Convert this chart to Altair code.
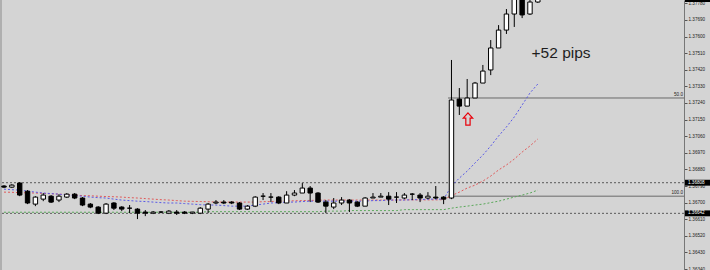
import altair as alt
import pandas as pd

# ---- data (price units) ----
opens = [1.36790, 1.36784, 1.36806, 1.36762, 1.36692, 1.36719, 1.36735, 1.36714, 1.36730, 1.36746,
         1.36725, 1.36692, 1.36676, 1.36643, 1.36698, 1.36676, 1.36670, 1.36665, 1.36649, 1.36643,
         1.36649, 1.36643, 1.36649, 1.36649, 1.36643, 1.36643, 1.36665, 1.36698, 1.36703, 1.36703,
         1.36698, 1.36665, 1.36681, 1.36735, 1.36730, 1.36730, 1.36698, 1.36741, 1.36752, 1.36779,
         1.36752, 1.36703, 1.36676, 1.36698, 1.36714, 1.36703, 1.36681, 1.36725, 1.36730, 1.36735,
         1.36730, 1.36725, 1.36746, 1.36741, 1.36725, 1.36730, 1.36730, 1.36725, 1.37261, 1.37223,
         1.37267, 1.37348, 1.37419, 1.37538, 1.37635, 1.37722, 1.37814, 1.37722, 1.37787]
highs = [1.36795, 1.36800, 1.36811, 1.36768, 1.36735, 1.36752, 1.36741, 1.36746, 1.36752, 1.36752,
         1.36730, 1.36698, 1.36681, 1.36698, 1.36703, 1.36681, 1.36687, 1.36670, 1.36660, 1.36654,
         1.36654, 1.36660, 1.36660, 1.36654, 1.36649, 1.36676, 1.36698, 1.36714, 1.36714, 1.36708,
         1.36703, 1.36687, 1.36735, 1.36752, 1.36752, 1.36735, 1.36762, 1.36768, 1.36806, 1.36790,
         1.36757, 1.36714, 1.36725, 1.36730, 1.36719, 1.36708, 1.36730, 1.36752, 1.36752, 1.36757,
         1.36757, 1.36752, 1.36752, 1.36752, 1.36757, 1.36790, 1.36735, 1.37473, 1.37321, 1.37370,
         1.37354, 1.37446, 1.37581, 1.37662, 1.37749, 1.37841, 1.37841, 1.37809, 1.37814]
lows = [1.36779, 1.36779, 1.36735, 1.36692, 1.36681, 1.36708, 1.36698, 1.36703, 1.36725, 1.36719,
        1.36681, 1.36670, 1.36638, 1.36638, 1.36660, 1.36654, 1.36643, 1.36611, 1.36627, 1.36638,
        1.36643, 1.36638, 1.36633, 1.36638, 1.36638, 1.36638, 1.36643, 1.36692, 1.36692, 1.36692,
        1.36660, 1.36660, 1.36676, 1.36714, 1.36703, 1.36692, 1.36698, 1.36735, 1.36752, 1.36703,
        1.36698, 1.36643, 1.36665, 1.36687, 1.36649, 1.36676, 1.36681, 1.36725, 1.36730, 1.36687,
        1.36698, 1.36719, 1.36714, 1.36703, 1.36719, 1.36719, 1.36692, 1.36719, 1.37175, 1.37223,
        1.37267, 1.37348, 1.37391, 1.37538, 1.37614, 1.37652, 1.37700, 1.37717, 1.37782]
closes = [1.36784, 1.36795, 1.36741, 1.36698, 1.36730, 1.36741, 1.36703, 1.36735, 1.36746, 1.36725,
          1.36687, 1.36676, 1.36643, 1.36692, 1.36670, 1.36665, 1.36670, 1.36643, 1.36643, 1.36649,
          1.36649, 1.36654, 1.36643, 1.36643, 1.36649, 1.36670, 1.36692, 1.36703, 1.36698, 1.36698,
          1.36665, 1.36681, 1.36730, 1.36735, 1.36730, 1.36698, 1.36741, 1.36752, 1.36779, 1.36752,
          1.36703, 1.36681, 1.36698, 1.36714, 1.36698, 1.36681, 1.36725, 1.36730, 1.36735, 1.36719,
          1.36730, 1.36741, 1.36746, 1.36725, 1.36735, 1.36725, 1.36719, 1.37256, 1.37223, 1.37267,
          1.37348, 1.37413, 1.37538, 1.37635, 1.37722, 1.37814, 1.37717, 1.37787, 1.37803]
ma_fast = [1.36773, 1.36770, 1.36768, 1.36762, 1.36757, 1.36752, 1.36749, 1.36746, 1.36741, 1.36738,
           1.36735, 1.36730, 1.36727, 1.36725, 1.36719, 1.36714, 1.36711, 1.36708, 1.36706, 1.36703,
           1.36700, 1.36698, 1.36698, 1.36695, 1.36692, 1.36689, 1.36687, 1.36687, 1.36684, 1.36681,
           1.36681, 1.36681, 1.36687, 1.36692, 1.36698, 1.36700, 1.36703, 1.36703, 1.36706, 1.36708,
           1.36708, 1.36708, 1.36708, 1.36708, 1.36708, 1.36708, 1.36708, 1.36711, 1.36711, 1.36714,
           1.36714, 1.36714, 1.36716, 1.36716, 1.36719, 1.36719, 1.36719, 1.36790, 1.36833, 1.36871,
           1.36915, 1.36958, 1.37007, 1.37061, 1.37110, 1.37164, 1.37229, 1.37294, 1.37343]
ma_mid = [1.36757, 1.36756, 1.36754, 1.36753, 1.36752, 1.36750, 1.36748, 1.36746, 1.36744, 1.36741,
          1.36738, 1.36737, 1.36735, 1.36733, 1.36732, 1.36730, 1.36727, 1.36725, 1.36722, 1.36719,
          1.36716, 1.36714, 1.36711, 1.36708, 1.36707, 1.36706, 1.36705, 1.36703, 1.36703, 1.36703,
          1.36703, 1.36703, 1.36703, 1.36705, 1.36706, 1.36708, 1.36709, 1.36710, 1.36711, 1.36712,
          1.36713, 1.36714, 1.36714, 1.36714, 1.36714, 1.36714, 1.36714, 1.36714, 1.36714, 1.36714,
          1.36714, 1.36715, 1.36715, 1.36715, 1.36715, 1.36715, 1.36716, 1.36738, 1.36757, 1.36779,
          1.36795, 1.36817, 1.36844, 1.36877, 1.36904, 1.36936, 1.36974, 1.37007, 1.37045]
ma_slow = [1.36648, 1.36648, 1.36648, 1.36648, 1.36648, 1.36648, 1.36648, 1.36648, 1.36648, 1.36648,
           1.36648, 1.36648, 1.36648, 1.36648, 1.36648, 1.36648, 1.36648, 1.36648, 1.36648, 1.36648,
           1.36648, 1.36648, 1.36648, 1.36648, 1.36648, 1.36648, 1.36651, 1.36651, 1.36651, 1.36651,
           1.36651, 1.36651, 1.36651, 1.36651, 1.36651, 1.36651, 1.36651, 1.36651, 1.36651, 1.36651,
           1.36651, 1.36654, 1.36654, 1.36654, 1.36657, 1.36657, 1.36657, 1.36657, 1.36657, 1.36657,
           1.36657, 1.36662, 1.36662, 1.36662, 1.36662, 1.36662, 1.36662, 1.36670, 1.36676, 1.36681,
           1.36687, 1.36692, 1.36700, 1.36708, 1.36719, 1.36730, 1.36741, 1.36752, 1.36768]

axis_ticks = [1.37780, 1.37690, 1.37600, 1.37510, 1.37420, 1.37330, 1.37240, 1.37150, 1.37060,
              1.36970, 1.36880, 1.36790, 1.36700, 1.36610, 1.36520, 1.36430, 1.36340]
line_levels = [1.36808, 1.36642]
fib_levels = [1.37267, 1.36735]
fib_names = ["50.0", "100.0"]
fib_start = 56.56
box_prices = [1.37803, 1.36808, 1.36642]
box_labels = ["1.37803", "1.36808", "1.36642"]
arrow_pos = [59.1, 1.37153]
note_pos = [70.96, 1.37484]
note_text = "+52 pips"

X_DOMAIN = [-0.51, 86.62]
Y_DOMAIN = [1.36335, 1.37798]

n = len(opens)
candles = pd.DataFrame({"i": list(range(n)), "open": opens, "high": highs, "low": lows,
                        "close": closes, "fast": ma_fast, "mid": ma_mid, "slow": ma_slow})

xs = alt.Scale(domain=X_DOMAIN, nice=False, zero=False)
ys = alt.Scale(domain=Y_DOMAIN, nice=False, zero=False)
yaxis = alt.Axis(orient="right", values=axis_ticks, format=".5f", title=None, grid=False,
                 labelFont="Liberation Sans", labelFontSize=4.6, labelColor="#222222",
                 tickSize=3, tickColor="#555555", domainColor="#777777", labelPadding=1,
                 labelOverlap=False, labelBound=False, labelFlush=False)


def X(f):
    return alt.X(f, type="quantitative", scale=xs, axis=None)


def Y(f):
    return alt.Y(f, type="quantitative", scale=ys, axis=yaxis)


base = alt.Chart(candles)

border = alt.Chart(pd.DataFrame({"a": [0]})).mark_rule(color="#8a8a8a").encode(x=alt.value(1))

dotted = alt.Chart(pd.DataFrame({"price": line_levels})).mark_rule(
    color="#5a5a5a", strokeDash=[2, 2], strokeWidth=1).encode(y=Y("price"))

fib_df = pd.DataFrame({"price": fib_levels, "name": fib_names,
                       "start": [fib_start, fib_start], "end": [X_DOMAIN[1], X_DOMAIN[1]]})
fib = alt.Chart(fib_df).mark_rule(color="#6a6a6a", strokeWidth=1).encode(
    x=X("start"), x2="end", y=Y("price"))
fib_text = alt.Chart(fib_df).mark_text(align="right", baseline="bottom", dy=-1, fontSize=4.6,
                                       font="Liberation Sans", color="#222222").encode(
    x=alt.value(683), y=Y("price"), text="name")

ma_slow_l = base.mark_line(color="#5aa85a", strokeDash=[2, 2], strokeWidth=1).encode(x=X("i"), y=Y("slow"))
ma_mid_l = base.mark_line(color="#e05a5a", strokeDash=[2, 2], strokeWidth=1).encode(x=X("i"), y=Y("mid"))
ma_fast_l = base.mark_line(color="#5a5ae6", strokeDash=[2, 2], strokeWidth=1).encode(x=X("i"), y=Y("fast"))

wicks = base.mark_rule(color="black", strokeWidth=1).encode(x=X("i"), y=Y("low"), y2="high")
bodies = base.transform_calculate(x0="datum.i - 0.28", x1="datum.i + 0.28").mark_rect(
    stroke="black", strokeWidth=1).encode(
    x=X("x0"), x2="x1", y=Y("open"), y2="close",
    fill=alt.condition("datum.close >= datum.open", alt.value("white"), alt.value("black")))

arrow_path = "M0,-1L0.77,-0.15L0.35,-0.15L0.35,1L-0.35,1L-0.35,-0.15L-0.77,-0.15Z"
arrow = alt.Chart(pd.DataFrame({"i": [arrow_pos[0]], "price": [arrow_pos[1]]})).mark_point(
    shape=arrow_path, filled=False, stroke="#e8000b", strokeWidth=1.2, size=150, opacity=1).encode(
    x=X("i"), y=Y("price"))

note = alt.Chart(pd.DataFrame({"i": [note_pos[0]], "price": [note_pos[1]], "t": [note_text]})).mark_text(
    fontSize=15.5, font="Liberation Sans", color="#1e1e1e", align="center", baseline="alphabetic").encode(
    x=X("i"), y=Y("price"), text="t")

box_df = pd.DataFrame({"price": box_prices, "label": box_labels})
boxes = alt.Chart(box_df).transform_calculate(lo="datum.price - 0.00016", hi="datum.price + 0.00016").mark_rect(
    color="black").encode(x=alt.value(685), x2=alt.value(710), y=Y("lo"), y2="hi")
box_text = alt.Chart(box_df).mark_text(align="left", baseline="middle", color="white", fontSize=4.6,
                                       font="Liberation Sans").encode(
    x=alt.value(688), y=Y("price"), text="label")

chart = alt.layer(border, dotted, fib, fib_text, ma_slow_l, ma_mid_l, ma_fast_l, wicks, bodies,
                  arrow, note, boxes, box_text).properties(
    width=684, height=270, background="#d4d4d4",
    padding={"left": 0, "right": 26, "top": 0, "bottom": 0},
    autosize=alt.AutoSizeParams(type="none")
).configure_view(strokeWidth=0, fill="#d4d4d4")

chart.save("out.html", embed_options={"renderer": "svg", "actions": False})
